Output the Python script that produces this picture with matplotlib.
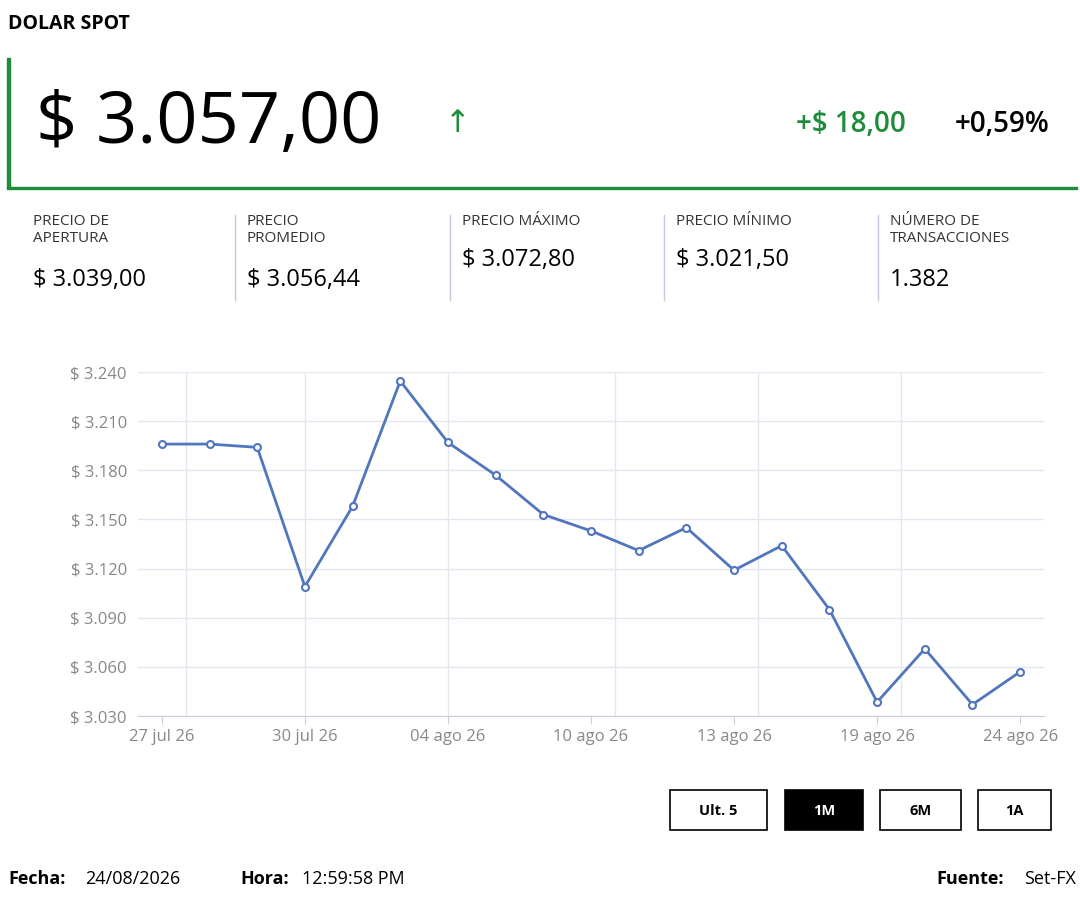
import matplotlib
matplotlib.use("Agg")
import matplotlib.pyplot as plt
from matplotlib.patches import Rectangle

plt.rcParams['font.family']=['Open Sans','DejaVu Sans']

# datos
values=[3196,3196,3194,3109,3158,3234.5,3197,3177,3153,3143,3131,3145,3119,3134,3095,3038.5,3071,3037,3057]
tick_idx=[0,3,6,9,12,15,18]
tick_labels=["27 jul 26","30 jul 26","04 ago 26","10 ago 26","13 ago 26","19 ago 26","24 ago 26"]
y_ticks=[3030,3060,3090,3120,3150,3180,3210,3240]
vgrid=[0.5,3,6,9.5,12.5,15.5]
stats_titles=["PRECIO DE\nAPERTURA","PRECIO\nPROMEDIO","PRECIO MÁXIMO","PRECIO MÍNIMO","NÚMERO DE\nTRANSACCIONES"]
stats_values=["$ 3.039,00","$ 3.056,44","$ 3.072,80","$ 3.021,50","1.382"]
buttons=["Ult. 5","1M","6M","1A"]

W,H=1080,900
fig=plt.figure(figsize=(W/100,H/100),dpi=100)
def fx(x): return x/W
def fy(y): return 1-y/H
green="#1e8c3a"

fig.text(fx(8),fy(24),"DOLAR SPOT",fontsize=14,fontweight="bold",va="center")
fig.add_artist(Rectangle((fx(7),fy(188)),fx(3),fy(58)-fy(188),color=green,transform=fig.transFigure))
fig.add_artist(Rectangle((fx(7),fy(189)),fx(1070),fy(187)-fy(189),color=green,transform=fig.transFigure))
fig.text(fx(36),fy(124),"$ 3.057,00",fontsize=52,va="center",fontweight="medium")
fig.text(fx(458),fy(124),"↑",fontsize=22,color=green,va="center",ha="center",family=['DejaVu Sans'])
fig.text(fx(906),fy(124),"+$ 18,00",fontsize=20,color=green,ha="right",va="center",fontweight="semibold")
fig.text(fx(1050),fy(124),"+0,59%",fontsize=20,ha="right",va="center",fontweight="semibold")

xs=[33,247,462,676,890]
for i,(t,v) in enumerate(zip(stats_titles,stats_values)):
    fig.text(fx(xs[i]),fy(214),t,fontsize=11,va="top",color="#333",linespacing=1.2,fontweight="medium")
    vy=260 if "\n" not in t else 280
    fig.text(fx(xs[i]),fy(vy),v,fontsize=17,va="center",fontweight="medium")
    if i>0:
        fig.add_artist(plt.Line2D([fx(xs[i]-12)]*2,[fy(215),fy(300)],color="#c8c8d8",lw=1))

ax=fig.add_axes([fx(138),fy(716),fx(1044)-fx(138),fy(372)-fy(716)])
xi=list(range(len(values)))
ax.plot(xi,values,color="#5176be",lw=2,marker="o",ms=5,mfc="white",mec="#5176be",mew=1.5)
ax.set_xlim(-0.5,18.5)
ax.set_ylim(3030,3240)
ax.set_yticks(y_ticks)
ax.set_yticklabels([f"$ {v/1000:.3f}" for v in y_ticks],color="#888",fontsize=12)
ax.set_xticks(tick_idx)
ax.set_xticklabels(tick_labels,color="#888",fontsize=12)
ax.grid(axis="y",color="#e3e6ee",lw=1)
for g in vgrid:
    ax.axvline(g,color="#e3e6ee",lw=1,zorder=0)
for s in ["top","right","left"]:
    ax.spines[s].set_visible(False)
ax.spines["bottom"].set_color("#ccd")
ax.tick_params(axis="y",length=0,pad=8)
ax.tick_params(axis="x",color="#ccd",length=6)

bx=[670,785,880,978]
bw=[97,78,81,73]
for b,x0,w in zip(buttons,bx,bw):
    sel=b=="1M"
    fig.add_artist(Rectangle((fx(x0),fy(830)),fx(w),fy(790)-fy(830),transform=fig.transFigure,
                             facecolor="black" if sel else "white",edgecolor="black",lw=1.2))
    fig.text(fx(x0+w/2),fy(811),b,fontsize=10.5,fontweight="bold",ha="center",va="center",
             color="white" if sel else "black")

fig.text(fx(8),fy(879),"Fecha:",fontsize=13,va="center",fontweight="bold")
fig.text(fx(85),fy(879),"24/08/2026",fontsize=13,va="center")
fig.text(fx(240),fy(879),"Hora:",fontsize=13,va="center",fontweight="bold")
fig.text(fx(302),fy(879),"12:59:58 PM",fontsize=13,va="center")
fig.text(fx(1076),fy(879),"Set-FX",fontsize=13,va="center",ha="right")
fig.text(fx(1004),fy(879),"Fuente:",fontsize=13,va="center",ha="right",fontweight="bold")

fig.savefig("out.png",dpi=100)
